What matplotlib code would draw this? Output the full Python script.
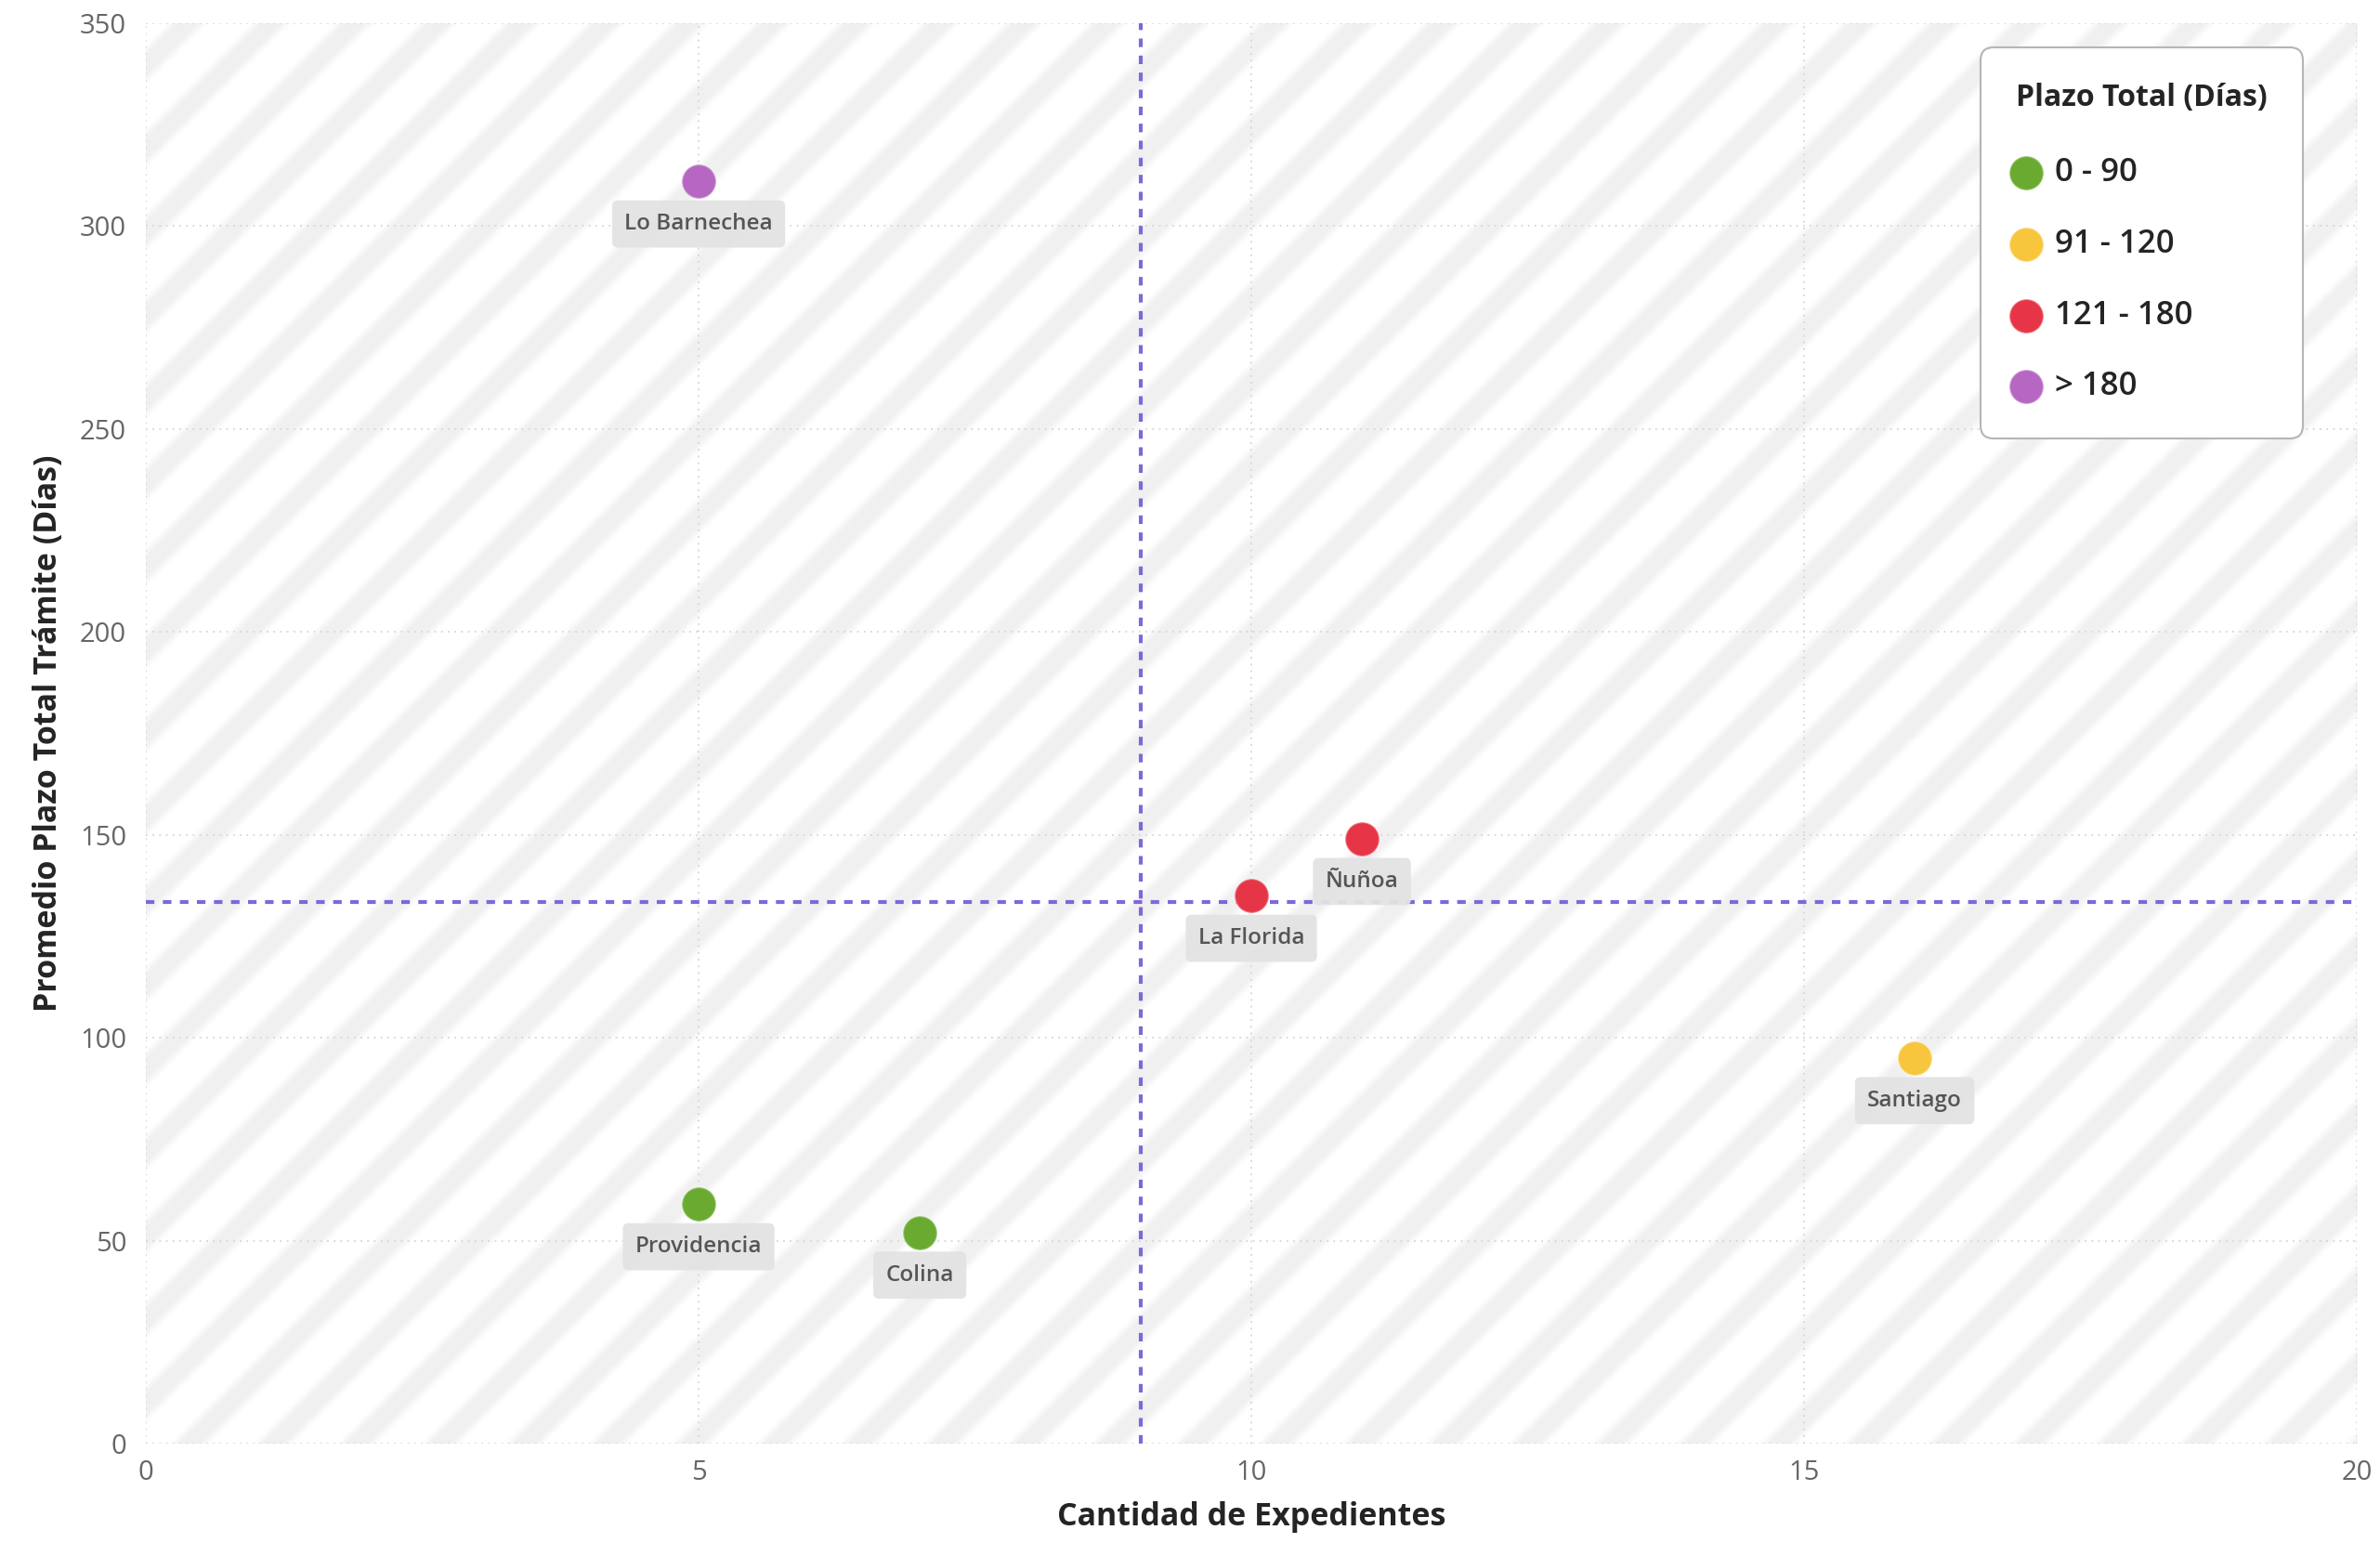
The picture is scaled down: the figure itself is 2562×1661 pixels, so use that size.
import numpy as np
import matplotlib.pyplot as plt

plt.rcParams['font.family'] = ['Open Sans', 'DejaVu Sans']

# datos por comuna
comunas = ['Lo Barnechea', 'Providencia', 'Colina', 'La Florida', 'Ñuñoa', 'Santiago']
expedientes = [5, 5, 7, 10, 11, 16]
plazo_promedio = [311, 59, 52, 135, 149, 95]

# rangos de plazo total (días)
rangos = ['0 - 90', '91 - 120', '121 - 180', '> 180']
cortes = [90.5, 120.5, 180.5]
colores = ['#6BAA30', '#F8C63D', '#E63546', '#B567C1']

x_ticks = [0, 5, 10, 15, 20]
y_ticks = [0, 50, 100, 150, 200, 250, 300, 350]

fig = plt.figure(figsize=(25.62, 16.61), dpi=100)
pos = [0.0613, 0.0644, 0.929, 0.9206]
ax = fig.add_axes(pos)

# fondo con franjas diagonales suaves
w_px = int(fig.bbox.width * pos[2])
h_px = int(fig.bbox.height * pos[3])
cc, rr = np.meshgrid(np.arange(w_px), np.arange(h_px))
fase = (cc + rr) % 90
franja = np.clip((16 - np.abs(fase - 45)) / 12 + 0.5, 0, 1)
gris = 1 - 0.058 * franja
fondo = np.dstack([gris, gris, gris])
ax.imshow(fondo, extent=[x_ticks[0], x_ticks[-1], y_ticks[0], y_ticks[-1]],
          aspect='auto', zorder=0, interpolation='bilinear')

ax.set_xlim(x_ticks[0], x_ticks[-1])
ax.set_ylim(y_ticks[0], y_ticks[-1])
ax.set_xticks(x_ticks)
ax.set_yticks(y_ticks)
ax.grid(True, color='#d6d6d6', linestyle=(0, (1, 3)), linewidth=1.3, zorder=1)
for s in ax.spines.values():
    s.set_visible(False)
ax.tick_params(length=0, labelsize=21, labelcolor='#666666')
ax.tick_params(axis='y', pad=15)
ax.tick_params(axis='x', pad=12)

# líneas de promedio
ax.axvline(np.mean(expedientes), color='#8166DA', lw=3, ls=(0, (2.2, 2.2)), zorder=2)
ax.axhline(np.mean(plazo_promedio), color='#8166DA', lw=3, ls=(0, (2.2, 2.2)), zorder=2)

x = np.array(expedientes)
y = np.array(plazo_promedio)
cat = np.digitize(y, cortes)
for i, r in enumerate(rangos):
    m = cat == i
    ax.scatter(x[m], y[m], s=700, color=colores[i], lw=1.5,
               edgecolor=(1, 1, 1, 0.35), zorder=4, label=r)

for nombre, xi, yi in zip(comunas, expedientes, plazo_promedio):
    ax.annotate(nombre, (xi, yi), xytext=(0, -33), textcoords='offset points',
                ha='center', va='center', fontsize=17.5, fontweight='semibold',
                color='#555555', zorder=3,
                bbox=dict(boxstyle='round,pad=0.55,rounding_size=0.25',
                          fc='#e3e3e3', ec='none', alpha=0.95))

ax.set_xlabel('Cantidad de Expedientes', fontsize=24.5, fontweight='bold',
              color='#252423', labelpad=12)
ax.set_ylabel('Promedio Plazo Total Trámite (Días)', fontsize=24.5, fontweight='bold',
              color='#252423', labelpad=12)

leg = ax.legend(title='Plazo Total (Días)', loc='upper right',
                bbox_to_anchor=(0.9756, 0.983), borderaxespad=0, fontsize=25,
                title_fontproperties={'weight': 'bold', 'size': 23},
                labelspacing=1.23, handlelength=0.6, handletextpad=0.6,
                borderpad=1.1, alignment='left', frameon=True, fancybox=True,
                framealpha=1)
leg.get_frame().set_edgecolor('#b5b5b5')
leg.get_frame().set_linewidth(1.5)
leg.get_frame().set_boxstyle('round,pad=0,rounding_size=0.4')
leg._legend_box.sep = 34
for t in leg.get_texts():
    t.set_fontweight('semibold')
    t.set_color('#252423')
leg.get_title().set_color('#252423')

fig.savefig('out.png', dpi=100)
